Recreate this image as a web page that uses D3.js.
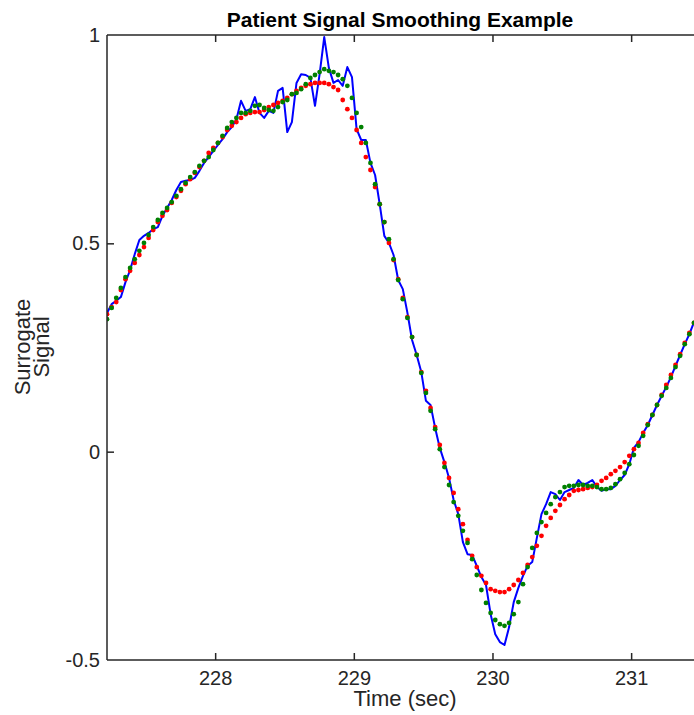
<!DOCTYPE html>
<html>
<head>
<meta charset="utf-8">
<script src="https://cdn.jsdelivr.net/npm/d3@7/dist/d3.min.js"></script>
<style>
  html, body { margin: 0; padding: 0; background: #fff; }
  svg { display: block; }
</style>
</head>
<body>
<svg id="chart" width="694" height="715"></svg>
<script>
// ---- data ----
const startTime = 227.22;      // seconds, first sample
const sampleRate = 30;         // Hz
const raw = [0.333,0.354,0.362,0.371,0.407,0.436,0.474,0.508,0.518,0.525,0.534,0.539,0.566,0.585,0.604,0.628,0.647,0.650,0.652,0.657,
0.674,0.693,0.707,0.722,0.736,0.750,0.767,0.779,0.798,0.842,0.818,0.822,0.851,0.813,0.801,0.818,0.813,0.866,0.873,0.767,
0.791,0.885,0.906,0.904,0.897,0.830,0.906,0.995,0.921,0.885,0.892,0.878,0.923,0.899,0.774,0.748,0.748,0.693,0.664,0.594,
0.518,0.501,0.472,0.412,0.390,0.333,0.268,0.232,0.191,0.122,0.112,0.057,0.009,-0.025,-0.063,-0.116,-0.150,-0.217,-0.246,-0.248,
-0.274,-0.301,-0.320,-0.390,-0.438,-0.457,-0.464,-0.421,-0.361,-0.327,-0.298,-0.274,-0.265,-0.207,-0.150,-0.126,-0.097,-0.102,-0.116,-0.097,
-0.092,-0.087,-0.068,-0.080,-0.075,-0.068,-0.085,-0.094,-0.090,-0.090,-0.082,-0.068,-0.056,-0.030,0.009,0.023,0.045,0.064,0.088,0.112,
0.134,0.155,0.179,0.206,0.232,0.258,0.282,0.311];
const smoothGreen = [0.318,0.345,0.369,0.393,0.419,0.441,0.462,0.482,0.501,0.520,0.539,0.556,0.573,0.585,0.599,0.614,0.630,0.645,0.659,0.671,
0.686,0.698,0.707,0.724,0.741,0.758,0.777,0.791,0.801,0.813,0.813,0.818,0.830,0.832,0.825,0.820,0.818,0.827,0.839,0.844,
0.858,0.861,0.870,0.882,0.897,0.904,0.911,0.918,0.914,0.911,0.904,0.894,0.878,0.849,0.813,0.779,0.741,0.693,0.642,0.594,
0.551,0.510,0.462,0.412,0.366,0.321,0.275,0.232,0.189,0.141,0.098,0.054,0.006,-0.037,-0.080,-0.121,-0.154,-0.190,-0.219,-0.258,
-0.296,-0.332,-0.363,-0.387,-0.404,-0.414,-0.418,-0.411,-0.390,-0.361,-0.318,-0.277,-0.231,-0.195,-0.169,-0.147,-0.126,-0.109,-0.097,-0.085,
-0.082,-0.082,-0.080,-0.080,-0.082,-0.082,-0.085,-0.090,-0.090,-0.087,-0.078,-0.066,-0.051,-0.030,-0.008,0.014,0.038,0.064,0.088,0.112,
0.134,0.153,0.177,0.203,0.230,0.258,0.282,0.309];
const smoothRed = [0.330,0.347,0.359,0.388,0.414,0.434,0.453,0.472,0.491,0.513,0.532,0.551,0.566,0.580,0.597,0.611,0.626,0.642,0.654,0.669,
0.683,0.698,0.717,0.729,0.741,0.755,0.772,0.782,0.791,0.801,0.810,0.813,0.815,0.815,0.820,0.827,0.832,0.837,0.842,0.849,
0.858,0.866,0.873,0.878,0.882,0.885,0.885,0.885,0.882,0.875,0.868,0.844,0.822,0.801,0.772,0.741,0.707,0.676,0.635,0.594,
0.551,0.501,0.460,0.414,0.369,0.323,0.275,0.232,0.191,0.146,0.105,0.059,0.016,-0.027,-0.063,-0.099,-0.138,-0.174,-0.212,-0.250,
-0.277,-0.298,-0.315,-0.330,-0.334,-0.337,-0.337,-0.330,-0.320,-0.308,-0.291,-0.272,-0.253,-0.226,-0.202,-0.178,-0.159,-0.142,-0.128,-0.114,
-0.104,-0.094,-0.092,-0.090,-0.087,-0.085,-0.080,-0.070,-0.063,-0.054,-0.046,-0.037,-0.025,-0.010,0.006,0.021,0.045,0.066,0.088,0.112,
0.136,0.160,0.184,0.208,0.234,0.261,0.285,0.309];
const xTicks = [228, 229, 230, 231];
const yTicks = [-0.5, 0, 0.5, 1];
const yTickLabels = ["-0.5", "0", "0.5", "1"];
const titleText = "Patient Signal Smoothing Example";
const xLabel = "Time (sec)";
const yLabelLines = ["Surrogate", "Signal"];

// ---- layout ----
const svg = d3.select("#chart");
const mLeft = 107, mRight = 694, mTop = 35, mBottom = 660;
const times = raw.map((_, i) => startTime + i / sampleRate);
const x = d3.scaleLinear().domain([startTime, times[times.length - 1]]).range([mLeft, mRight]);
const y = d3.scaleLinear().domain([-0.5, 1]).range([mBottom, mTop]);
const axisColor = "#262626";
const font = "'Liberation Sans', Arial, Helvetica, sans-serif";

svg.append("defs").append("clipPath").attr("id", "clip")
  .append("rect").attr("x", mLeft).attr("y", mTop - 6).attr("width", mRight - mLeft + 6).attr("height", mBottom - mTop + 12);

const plot = svg.append("g").attr("clip-path", "url(#clip)");

plot.append("path")
  .datum(raw)
  .attr("fill", "none")
  .attr("stroke", "#0000ff")
  .attr("stroke-width", 2)
  .attr("stroke-linejoin", "round")
  .attr("d", d3.line().x((d, i) => x(times[i])).y(d => y(d)));

plot.append("g").selectAll("circle").data(smoothRed).join("circle")
  .attr("cx", (d, i) => x(times[i])).attr("cy", d => y(d)).attr("r", 2.4).attr("fill", "#ff0000");
plot.append("g").selectAll("circle").data(smoothGreen).join("circle")
  .attr("cx", (d, i) => x(times[i])).attr("cy", d => y(d)).attr("r", 2.4).attr("fill", "#008000");

const xAxisB = d3.axisBottom(x).tickValues(xTicks).tickSize(-7).tickPadding(11).tickFormat(d3.format("d"));
const gx = svg.append("g").attr("transform", `translate(0,${mBottom})`).call(xAxisB);
const xAxisT = d3.axisTop(x).tickValues(xTicks).tickSize(-7).tickFormat("");
const gxt = svg.append("g").attr("transform", `translate(0,${mTop})`).call(xAxisT);
const yAxisL = d3.axisLeft(y).tickValues(yTicks).tickSize(-7).tickPadding(14).tickFormat((d, i) => yTickLabels[i]);
const gy = svg.append("g").attr("transform", `translate(${mLeft},0)`).call(yAxisL);

[gx, gxt, gy].forEach(g => {
  g.select(".domain").attr("stroke", axisColor).attr("stroke-width", 1.5);
  g.selectAll(".tick line").attr("stroke", axisColor).attr("stroke-width", 1.5);
  g.selectAll(".tick text").attr("fill", axisColor).style("font-family", font).style("font-size", "20px");
});
gx.select(".domain").attr("d", `M${mLeft},0H${mRight + 2}`);
gxt.select(".domain").attr("d", `M${mLeft},0H${mRight + 2}`);
gy.select(".domain").attr("d", `M0,${y(-0.5)}V${y(1)}`);
gy.selectAll(".tick line").attr("display", d => (d === -0.5 || d === 1) ? "none" : null);
gy.selectAll(".tick text").attr("x", -7);

svg.append("text").attr("x", 400).attr("y", 27).attr("text-anchor", "middle")
  .style("font-family", font).style("font-size", "21px").style("font-weight", "bold")
  .attr("fill", "#000").text(titleText);

svg.append("text").attr("x", 405).attr("y", 706).attr("text-anchor", "middle")
  .style("font-family", font).style("font-size", "22px").attr("fill", axisColor).text(xLabel);

const yl = svg.append("text").attr("transform", `translate(34,347) rotate(-90)`).attr("text-anchor", "middle")
  .style("font-family", font).style("font-size", "22px").attr("fill", axisColor);
yl.selectAll("tspan").data(yLabelLines).join("tspan")
  .attr("x", 0).attr("dy", (d, i) => i === 0 ? "-0.2em" : "0.9em").text(d => d);
</script>
</body>
</html>
